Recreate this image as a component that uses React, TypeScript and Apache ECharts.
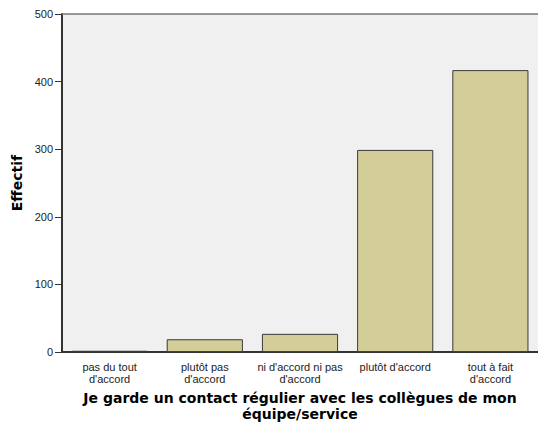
import React, { useEffect, useRef } from "react";
import * as echarts from "echarts";

const categories = [
  "pas du tout\nd'accord",
  "plutôt pas\nd'accord",
  "ni d'accord ni pas\nd'accord",
  "plutôt d'accord",
  "tout à fait\nd'accord",
];
const counts = [2, 19, 27, 299, 417];
const yTicks = [0, 100, 200, 300, 400, 500];

export default function App() {
  const ref = useRef<HTMLDivElement>(null);
  useEffect(() => {
    const chart = echarts.init(ref.current!, null, { renderer: "svg" });
    chart.setOption({
      animation: false,
      backgroundColor: "#ffffff",
      textStyle: { fontFamily: "Liberation Sans, Arial, sans-serif" },
      grid: {
        left: 62,
        top: 14,
        width: 480,
        height: 340,
        show: true,
        backgroundColor: "#f0f0f0",
        borderWidth: 0,
      },
      xAxis: [
        {
          type: "category",
          data: categories,
          name: "Je garde un contact régulier avec les collègues de mon\néquipe/service",
          nameLocation: "middle",
          nameGap: 35,
          nameTextStyle: {
            fontFamily: "DejaVu Sans",
            fontSize: 14,
            fontWeight: "bold",
            color: "#000",
            lineHeight: 16,
          },
          axisLine: { lineStyle: { color: "#333", width: 2 } },
          axisTick: { alignWithLabel: true, length: 7, lineStyle: { color: "#333" } },
          axisLabel: { fontSize: 11, color: "#222", lineHeight: 12, margin: 9, interval: 0 },
        },
        {
          type: "category",
          data: categories,
          position: "top",
          axisLine: { lineStyle: { color: "#777", width: 1.5 } },
          axisTick: { show: false },
          axisLabel: { show: false },
        },
      ],
      yAxis: {
        type: "value",
        min: 0,
        max: 500,
        interval: 100,
        name: "Effectif",
        nameLocation: "middle",
        nameGap: 32,
        nameTextStyle: { fontFamily: "DejaVu Sans", fontSize: 14, fontWeight: "bold", color: "#000" },
        axisLine: { show: true, lineStyle: { color: "#333", width: 2 } },
        axisTick: { show: true, length: 7, lineStyle: { color: "#333" } },
        axisLabel: {
          fontSize: 11,
          color: "#222",
          margin: 9,
          formatter: (v: number) => (yTicks.includes(v) ? String(v) : ""),
        },
        splitLine: { show: false },
      },
      series: [
        {
          type: "bar",
          data: counts,
          barWidth: "80%",
          itemStyle: { color: "#d3ce97", borderColor: "#3a3a3a", borderWidth: 1 },
        },
      ],
    });
    return () => chart.dispose();
  }, []);
  return <div ref={ref} style={{ width: 538, height: 427, position: "absolute", left: 0, top: 0 }} />;
}
